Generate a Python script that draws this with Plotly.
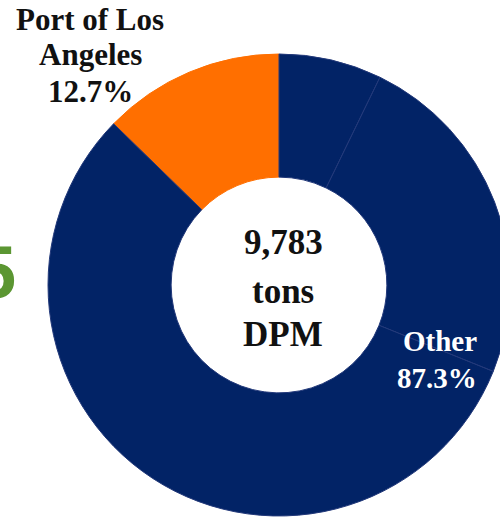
import plotly.graph_objects as go

# ---- data ----
labels = ["Port of Los Angeles", "Other (a)", "Other (b)", "Other (c)"]
shares = [12.7, 7.2, 23.9, 56.2]          # percent of total DPM
slice_colors = ["#FF6F00", "#022366", "#022366", "#022366"]
total_tons = "9,783"
center_lines = [total_tons, "tons", "DPM"]
port_label = ["Port of Los", "Angeles", "12.7%"]
other_label = ["Other", "87.3%"]

# figure overflows to the right (cropped by the window, as in the reference)
W, H = 510, 523
L, R, T, B = 48, 0, 54, 7
PW, PH = W - L - R, H - T - B

def px(sx):
    return (sx - L) / PW

def py(sy):
    return (H - B - sy) / PH

FONT = "Liberation Serif"

fig = go.Figure()
fig.add_trace(go.Pie(
    labels=labels,
    values=shares,
    sort=False,
    direction="clockwise",
    rotation=-45.72,
    hole=0.467,
    marker=dict(colors=slice_colors,
                line=dict(color=["#FF6F00", "#23397a", "#23397a", "#23397a"], width=1)),
    textinfo="none",
    hoverinfo="label+percent",
    showlegend=False,
))

ann = []
def add(txt, sx, sy, size, color, family=FONT, xanchor="center"):
    ann.append(dict(text="<b>" + txt + "</b>", x=px(sx), y=py(sy),
                    xref="paper", yref="paper", showarrow=False,
                    xanchor=xanchor, yanchor="middle",
                    font=dict(family=family, size=size, color=color)))

for txt, sy in zip(port_label, [19, 54, 91]):
    add(txt, 90, sy, 31, "#111111")
for txt, sx, sy in zip(other_label, [440, 437], [341, 378]):
    add(txt, sx, sy, 29, "#ffffff")
for txt, sy in zip(center_lines, [242, 291, 334]):
    add(txt, 283, sy, 35, "#111111")
# partially visible green digit at left edge
add("5", 18, 272, 74, "#5B9632", family="Liberation Sans", xanchor="right")

fig.update_layout(
    width=W, height=H,
    margin=dict(l=L, r=R, t=T, b=B),
    paper_bgcolor="white", plot_bgcolor="white",
    annotations=ann,
)

fig.write_html(
    "out.html",
    config={"displayModeBar": False},
    post_script="document.body.style.margin='0';document.body.style.overflow='hidden';",
)
